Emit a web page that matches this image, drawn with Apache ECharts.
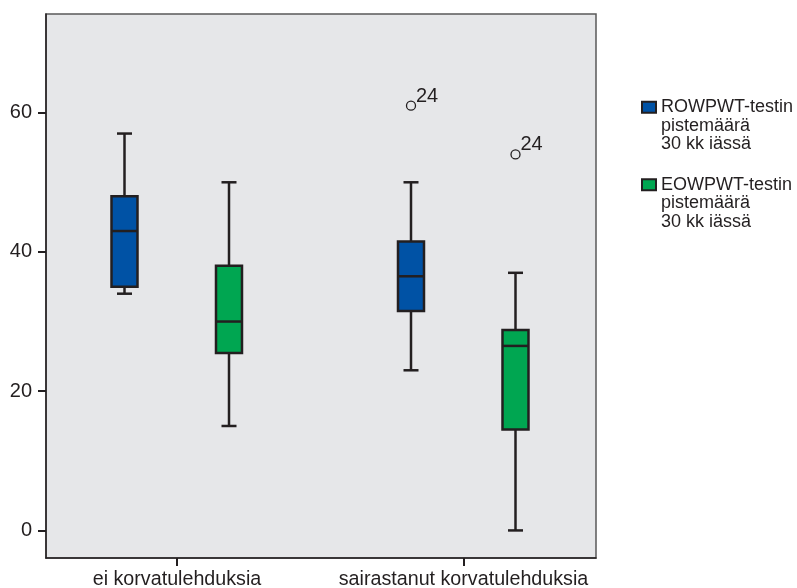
<!DOCTYPE html>
<html>
<head>
<meta charset="utf-8">
<script src="https://cdn.jsdelivr.net/npm/echarts@6/dist/echarts.min.js"></script>
<style>
  html, body { margin: 0; padding: 0; background: #ffffff; }
  #chart { width: 797px; height: 588px; }
</style>
</head>
<body>
<div id="chart"></div>
<script>
// Group labels on the horizontal axis
const categories = ['ei korvatulehduksia', 'sairastanut korvatulehduksia'];

// Box statistics per group: [min, Q1, median, Q3, max]
const rowpwtBoxes = [
  [34, 35, 43, 48, 57],
  [23, 31.5, 36.5, 41.5, 50]
];
const eowpwtBoxes = [
  [15, 25.5, 30, 38, 50],
  [0, 14.5, 26.5, 28.8, 37]
];

// Outliers: [group index, value, case number]
const rowpwtOutliers = [[1, 61, '24']];
const eowpwtOutliers = [[1, 54, '24']];

// Value-axis tick labels
const yTicks = [0, 20, 40, 60];

const seriesNames = [
  'ROWPWT-testin\npistemäärä\n30 kk iässä',
  'EOWPWT-testin\npistemäärä\n30 kk iässä'
];
const seriesColors = ['#0052A5', '#00A651'];

const INK = '#231F20';
const FONT = 'Liberation Sans, Arial, sans-serif';

function boxData(stats) {
  return stats.map((s, i) => [i + 1].concat(s));
}
function outlierData(list) {
  return list.map(o => [o[0] + 1, o[1], o[2]]);
}

function makeBoxRenderer(offset, color) {
  const half = 13;   // half box width, px
  const cap = 7.5;   // half whisker-cap width, px
  return function (params, api) {
    const x = api.value(0);
    const pMin = api.coord([x, api.value(1)]);
    const pQ1 = api.coord([x, api.value(2)]);
    const pMed = api.coord([x, api.value(3)]);
    const pQ3 = api.coord([x, api.value(4)]);
    const pMax = api.coord([x, api.value(5)]);
    const cx = pMin[0] + offset;
    const line = { stroke: INK, lineWidth: 2.5 };
    return {
      type: 'group',
      children: [
        { type: 'line', shape: { x1: cx, y1: pQ3[1], x2: cx, y2: pMax[1] }, style: line },
        { type: 'line', shape: { x1: cx, y1: pQ1[1], x2: cx, y2: pMin[1] }, style: line },
        { type: 'line', shape: { x1: cx - cap, y1: pMax[1], x2: cx + cap, y2: pMax[1] }, style: line },
        { type: 'line', shape: { x1: cx - cap, y1: pMin[1], x2: cx + cap, y2: pMin[1] }, style: line },
        { type: 'rect', shape: { x: cx - half, y: pQ3[1], width: half * 2, height: pQ1[1] - pQ3[1] },
          style: { fill: color, stroke: INK, lineWidth: 2.5 } },
        { type: 'line', shape: { x1: cx - half, y1: pMed[1], x2: cx + half, y2: pMed[1] }, style: line }
      ]
    };
  };
}

function makeOutlierRenderer(offset) {
  return function (params, api) {
    const p = api.coord([api.value(0), api.value(1)]);
    const cx = p[0] + offset;
    return {
      type: 'group',
      children: [
        { type: 'circle', shape: { cx: cx, cy: p[1], r: 4.5 },
          style: { fill: 'none', stroke: INK, lineWidth: 1.3 } },
        { type: 'text', x: cx + 5, y: p[1] - 9.5,
          style: { text: String(api.value(2)), fill: INK, font: '20px ' + FONT,
                   align: 'left', verticalAlign: 'middle' } }
      ]
    };
  };
}

const offsets = [-52.5, 52];

const chart = echarts.init(document.getElementById('chart'), null, { renderer: 'canvas' });

chart.setOption({
  animation: false,
  backgroundColor: '#ffffff',
  grid: {
    left: 46, right: 201, top: 14, bottom: 30,
    outerBoundsMode: 'none',
    containLabel: false,
    show: true,
    backgroundColor: '#E6E7E9',
    borderColor: '#5a5a5a',
    borderWidth: 1.5
  },
  legend: {
    orient: 'vertical',
    left: 641,
    top: 61,
    padding: 0,
    itemGap: -15,
    itemWidth: 14,
    itemHeight: 11,
    icon: 'rect',
    selectedMode: false,
    // two leading blank lines keep the first text line level with the swatch
    formatter: name => '\n\n' + name,
    textStyle: {
      fontFamily: FONT,
      fontSize: 18,
      lineHeight: 18.5,
      color: INK,
      backgroundColor: 'rgba(0,0,0,0)'
    },
    data: seriesNames.map((n, i) => ({
      name: n,
      itemStyle: { color: seriesColors[i], borderColor: INK, borderWidth: 2 }
    }))
  },
  xAxis: {
    type: 'value',
    min: 0.54276,
    max: 2.46248,
    splitLine: { show: false },
    axisLine: { show: true, onZero: false, lineStyle: { color: INK, width: 1.5 } },
    axisTick: { show: true, customValues: [1, 2], length: 8, lineStyle: { color: INK, width: 2 } },
    axisLabel: {
      customValues: [1, 2],
      formatter: v => categories[Math.round(v) - 1],
      margin: 12,
      fontFamily: FONT,
      fontSize: 19.7,
      color: INK
    }
  },
  yAxis: {
    type: 'value',
    min: -3.96,
    max: 74.17,
    splitLine: { show: false },
    axisLine: { show: true, onZero: false, lineStyle: { color: INK, width: 1.5 } },
    axisTick: { show: true, customValues: yTicks, length: 8, lineStyle: { color: INK, width: 2 } },
    axisLabel: {
      customValues: yTicks,
      margin: 14,
      fontFamily: FONT,
      fontSize: 20,
      color: INK
    }
  },
  series: [
    {
      name: seriesNames[0],
      type: 'custom',
      renderItem: makeBoxRenderer(offsets[0], seriesColors[0]),
      itemStyle: { color: seriesColors[0] },
      encode: { x: 0, y: [1, 2, 3, 4, 5] },
      data: boxData(rowpwtBoxes)
    },
    {
      name: seriesNames[1],
      type: 'custom',
      renderItem: makeBoxRenderer(offsets[1], seriesColors[1]),
      itemStyle: { color: seriesColors[1] },
      encode: { x: 0, y: [1, 2, 3, 4, 5] },
      data: boxData(eowpwtBoxes)
    },
    {
      name: 'ROWPWT outliers',
      type: 'custom',
      renderItem: makeOutlierRenderer(offsets[0]),
      encode: { x: 0, y: 1 },
      data: outlierData(rowpwtOutliers)
    },
    {
      name: 'EOWPWT outliers',
      type: 'custom',
      renderItem: makeOutlierRenderer(offsets[1]),
      encode: { x: 0, y: 1 },
      data: outlierData(eowpwtOutliers)
    }
  ]
});
</script>
</body>
</html>
